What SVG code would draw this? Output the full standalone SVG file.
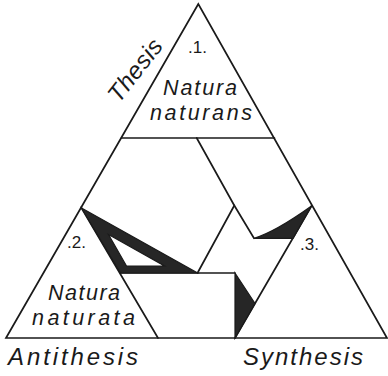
<svg xmlns="http://www.w3.org/2000/svg" width="388" height="376" viewBox="0 0 388 376">
<style>
.ln{fill:none;stroke:#1a1a1a;stroke-width:1.7;stroke-linejoin:miter;stroke-linecap:round}
.blk{fill:#262626;stroke:#1a1a1a;stroke-width:1.2;stroke-linejoin:miter}
.t{font-family:"Liberation Sans","DejaVu Sans",sans-serif;font-style:italic;fill:#1a1a1a}
.lab{font-size:21.5px}
.num{font-size:17px;font-style:normal}
.side{font-size:24px}
</style>
<rect width="388" height="376" fill="#ffffff"/>
<g id="outer-triangle">
<polygon class="ln" points="198.3,4 6,338 387,338"/>
</g>
<g id="node-1-thesis">
<line class="ln" x1="121.5" y1="138" x2="274.5" y2="138"/>
<text class="t num" x="188" y="53">.1.</text>
<text class="t lab" x="163" y="95" textLength="74" lengthAdjust="spacing">Natura</text>
<text class="t lab" x="150" y="120" textLength="102" lengthAdjust="spacing">naturans</text>
</g>
<g id="node-2-antithesis">
<line class="ln" x1="81.5" y1="208" x2="158" y2="338"/>
<text class="t num" x="67" y="248">.2.</text>
<text class="t lab" x="48" y="300" textLength="72" lengthAdjust="spacing">Natura</text>
<text class="t lab" x="32" y="324.5" textLength="103" lengthAdjust="spacing">naturata</text>
</g>
<g id="node-3-synthesis">
<line class="ln" x1="311.5" y1="206" x2="235" y2="338"/>
<text class="t num" x="300" y="250">.3.</text>
</g>
<g id="connectors">
<polyline class="ln" points="196.7,138 234.3,205.5 254,238.3"/>
<line class="ln" x1="234.3" y1="205.5" x2="197.5" y2="273"/>
<line class="ln" x1="120.5" y1="273" x2="235" y2="273"/>
<path class="blk" d="M254,238.3 Q275,232 311.5,206 L293,238.3 Z"/>
<path class="blk" fill-rule="evenodd" d="M81.5,208 L197.5,273 L120.5,273 Z M108.5,234.5 L126.5,266 L164.5,266 Z"/>
<polygon class="blk" points="235,273 255,303.5 235,338"/>
</g>
<g id="labels">
<text class="t side" transform="translate(119,104) rotate(-52)" textLength="73" lengthAdjust="spacing">Thesis</text>
<text class="t side" x="8" y="365" textLength="130" lengthAdjust="spacing">Antithesis</text>
<text class="t side" x="243" y="365" textLength="120" lengthAdjust="spacing">Synthesis</text>
</g>
</svg>
